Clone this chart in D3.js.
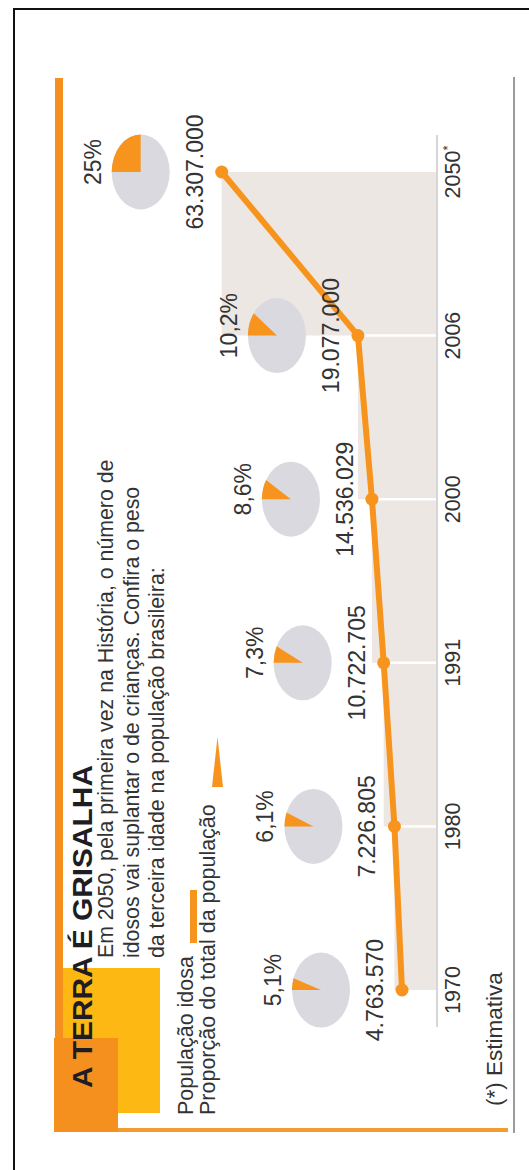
<!DOCTYPE html>
<html><head><meta charset="utf-8">
<script src="https://cdn.jsdelivr.net/npm/d3@7"></script>
<style>html,body{margin:0;padding:0;background:#fff;} svg{display:block;}</style>
</head><body>
<svg id="c" width="529" height="1170"></svg>
<script>
// ---- data ----
const years = ["1970", "1980", "1991", "2000", "2006", "2050"];
const yearLabels = ["1970", "1980", "1991", "2000", "2006", "2050"];
const estimatedYears = ["2050"];
const elderlyPop = [4763570, 7226805, 10722705, 14536029, 19077000, 63307000];
const sharePct = [5.1, 6.1, 7.3, 8.6, 10.2, 25];
const titleText = "A TERRA É GRISALHA";
const subtitleLines = [
  "Em 2050, pela primeira vez na História, o número de",
  "idosos vai suplantar o de crianças. Confira o peso",
  "da terceira idade na população brasileira:"
];
const legendLabels = ["População idosa", "Proporção do total da população"];
const noteText = "(*) Estimativa";

// ---- setup ----
const W = 529, H = 1170;
const ORANGE = "#F7941D", DARKOR = "#F5901F", YELLOW = "#FDB813";
const TXT = "#333", FONT = "'Liberation Sans', Arial, sans-serif";
const svg = d3.select("#c");

// outer frame
svg.append("line").attr("x1", 14).attr("y1", 9).attr("x2", 14).attr("y2", H)
  .attr("stroke", "#111").attr("stroke-width", 2);
svg.append("line").attr("x1", 13).attr("y1", 9).attr("x2", W).attr("y2", 9)
  .attr("stroke", "#111").attr("stroke-width", 2);

// rotated drawing group: local u runs along reading direction, v downward
const g = svg.append("g").attr("transform", `translate(0,${H}) rotate(-90)`)
  .style("font-family", FONT);

const data = years.map((yr, i) => ({ year: yr, label: yearLabels[i], value: elderlyPop[i], pct: sharePct[i] }));

const x = d3.scalePoint().domain(years).range([143, 1035]).padding(0.226);
const y = d3.scaleLinear().domain([0, 63307000]).range([416.7, 221.7]);
const axisV = 437;

const loc = d3.formatLocale({ decimal: ",", thousands: ".", grouping: [3], currency: ["", ""] });
const fmtInt = loc.format(",d");
const fmtPct = v => (Number.isInteger(v) ? loc.format("d")(v) : loc.format(".1f")(v)) + "%";

// frame rules
g.append("rect").attr("x", 40).attr("y", 55).attr("width", 1052).attr("height", 8).attr("fill", DARKOR);
g.append("rect").attr("x", 38).attr("y", 54).attr("width", 4).attr("height", 454).attr("fill", "#F39A30");
g.append("line").attr("x1", 37).attr("x2", 1093).attr("y1", 514).attr("y2", 514)
  .attr("stroke", "#9c9c9c").attr("stroke-width", 2);

// title boxes
g.append("rect").attr("x", 57).attr("y", 63).attr("width", 145).attr("height", 97).attr("fill", YELLOW);
g.append("rect").attr("x", 38).attr("y", 54).attr("width", 94).attr("height", 64).attr("fill", DARKOR);

g.append("text").attr("x", 82).attr("y", 92).text(titleText)
  .attr("font-size", 27).attr("font-weight", "bold").attr("fill", "#1f1d24")
  .attr("textLength", 323).attr("lengthAdjust", "spacingAndGlyphs");

g.selectAll("text.sub").data(subtitleLines).join("text").attr("class", "sub")
  .attr("x", 212).attr("y", (d, i) => 113 + i * 25.5)
  .attr("font-size", 21.3).attr("fill", TXT).text(d => d);

// legend
g.selectAll("text.leg").data(legendLabels).join("text").attr("class", "leg")
  .attr("x", 55).attr("y", (d, i) => 193 + i * 22)
  .attr("font-size", 21.5).attr("fill", TXT).text(d => d);
g.append("rect").attr("x", 227).attr("y", 190).attr("width", 53).attr("height", 7).attr("fill", ORANGE);
g.append("path").attr("d", "M433,217.5 L383,212 L383,223 Z").attr("fill", ORANGE);

// note
g.append("text").attr("x", 64).attr("y", 502).attr("font-size", 22.5).attr("fill", TXT).text(noteText);

// step area
const area = d3.area().x(d => x(d.year)).y0(axisV - 1).y1(d => y(d.value)).curve(d3.curveStepBefore);
g.append("path").datum(data).attr("d", area).attr("fill", "#ECE7E2");

// white separators
g.selectAll("line.sep").data(data.slice(1, -1)).join("line").attr("class", "sep")
  .attr("x1", d => x(d.year)).attr("x2", d => x(d.year))
  .attr("y1", d => y(d.value)).attr("y2", axisV - 1)
  .attr("stroke", "#fff").attr("stroke-width", 2.5);

// axis line
g.append("line").attr("x1", x.range()[0]).attr("x2", x.range()[1]).attr("y1", axisV).attr("y2", axisV)
  .attr("stroke", "#c8c8c8").attr("stroke-width", 1.5);

// year labels
const yl = g.selectAll("text.yr").data(data).join("text").attr("class", "yr")
  .attr("x", d => x(d.year)).attr("y", 460).attr("text-anchor", "middle")
  .attr("font-size", 21.5).attr("fill", TXT);
yl.append("tspan").text(d => d.label);
yl.filter(d => estimatedYears.includes(d.year)).append("tspan")
  .attr("font-size", 13).attr("dy", -8).text("*");

// line + dots
const line = d3.line().x(d => x(d.year)).y(d => y(d.value));
g.append("path").datum(data).attr("d", line).attr("fill", "none")
  .attr("stroke", ORANGE).attr("stroke-width", 6).attr("stroke-linejoin", "round");
g.selectAll("circle.dot").data(data).join("circle").attr("class", "dot")
  .attr("cx", d => x(d.year)).attr("cy", d => y(d.value)).attr("r", 6.5).attr("fill", ORANGE);

// value labels
g.selectAll("text.val").data(data).join("text").attr("class", "val")
  .attr("x", d => x(d.year)).attr("y", d => y(d.value) - 19).attr("text-anchor", "middle")
  .attr("font-size", 23).attr("fill", TXT).text(d => fmtInt(d.value));

// pies
const RU = 37.5, RV = 29;
const arc = d3.arc().innerRadius(0).outerRadius(RV);
const pies = g.selectAll("g.pie").data(data).join("g").attr("class", "pie")
  .attr("transform", d => `translate(${x(d.year)},${y(d.value) - 81})`);
pies.append("ellipse").attr("rx", RU).attr("ry", RV).attr("fill", "#D9D9DF");
pies.append("path").attr("transform", `scale(${RU / RV},1)`)
  .attr("d", d => arc({ startAngle: 0, endAngle: 2 * Math.PI * d.pct / 100 }))
  .attr("fill", ORANGE);
pies.append("text").attr("x", 10).attr("y", -RV - 11).attr("text-anchor", "middle")
  .attr("font-size", 23).attr("fill", TXT).text(d => fmtPct(d.pct));
</script>
</body></html>
